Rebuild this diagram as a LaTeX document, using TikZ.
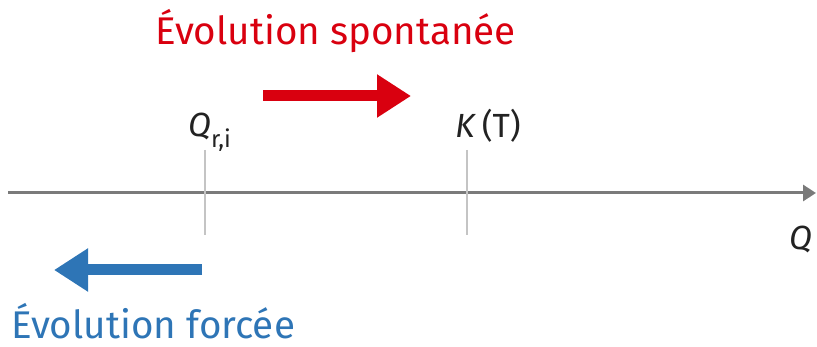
\documentclass[tikz,border=0pt]{standalone}
\usepackage{fontspec}
\setmainfont{Fira Sans}
\usetikzlibrary{arrows.meta}
\definecolor{spontred}{HTML}{D9000F}
\definecolor{forceblue}{HTML}{2E75B6}
\definecolor{axisgray}{HTML}{7A7A7A}
\definecolor{tickgray}{HTML}{C4C4C4}
\definecolor{labeltext}{HTML}{222222}
\begin{document}
\begin{tikzpicture}[x=1pt,y=-1pt,
  title/.style={inner sep=0pt,anchor=base west,font=\fontsize{38.6}{44}\selectfont},
  axislabel/.style={inner sep=0pt,anchor=base west,text=labeltext,font=\fontsize{33.5}{38}\selectfont},
  fatarrow/.style={line width=11pt,-{Triangle[length=34pt,width=41pt]}},
  tickline/.style={draw=tickgray,line width=1.8pt}]
\useasboundingbox (0,0) rectangle (817,347);

% quotient axis
\coordinate (axstart) at (8,193);
\coordinate (axend) at (816,193);
\draw[axisgray,line width=3pt,-{Triangle[length=13pt,width=16pt]}] (axstart) -- (axend);

% marks for Q_r,i and K(T)
\coordinate (qtop) at (205,150);
\coordinate (qbot) at (205,235);
\coordinate (ktop) at (467,150);
\coordinate (kbot) at (467,235);
\draw[tickline] (qtop) -- (qbot);
\draw[tickline] (ktop) -- (kbot);

% labels on the axis
\node[axislabel] (qri) at (188,137) {\textit{Q}\raisebox{-0.3em}{\fontsize{24}{28}\selectfont r,i}};
\node[axislabel] (kt) at (455,138) {\textit{K}\,(T)};
\node[axislabel] (qaxis) at (789,250) {\textit{Q}};

% direction of evolution
\coordinate (sstart) at (263,96);
\coordinate (send) at (411,96);
\draw[fatarrow,spontred] (sstart) -- (send);
\node[title,text=spontred] (spont) at (155,45) {Évolution spontanée};

\coordinate (fstart) at (202,270);
\coordinate (fend) at (54,270);
\draw[fatarrow,forceblue] (fstart) -- (fend);
\node[title,text=forceblue,text depth=0pt] (force) at (11,339) {Évolution forcée};
\end{tikzpicture}
\end{document}
